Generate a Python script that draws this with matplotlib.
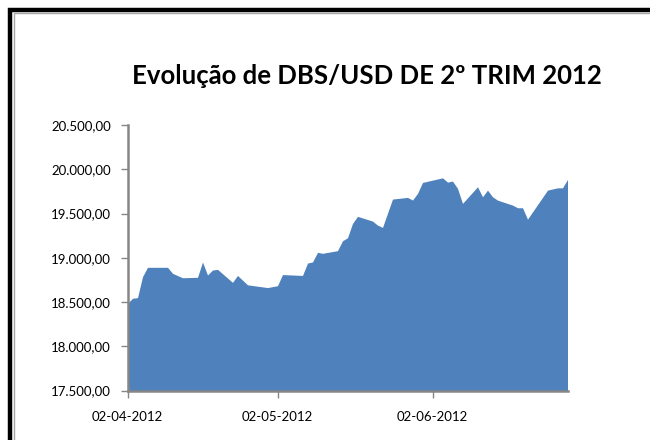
import matplotlib
matplotlib.use("Agg")
import matplotlib.pyplot as plt
import matplotlib.dates as mdates
from matplotlib.lines import Line2D
from matplotlib.ticker import FuncFormatter, FixedLocator
import numpy as np
import pandas as pd

title = "Evolução de DBS/USD DE 2º TRIM 2012"

dates = [
    "2012-04-02", "2012-04-03", "2012-04-04", "2012-04-05", "2012-04-06",
    "2012-04-10", "2012-04-11", "2012-04-13", "2012-04-16", "2012-04-17",
    "2012-04-18", "2012-04-19", "2012-04-20", "2012-04-23", "2012-04-24",
    "2012-04-26", "2012-04-30", "2012-05-02", "2012-05-03", "2012-05-07",
    "2012-05-08", "2012-05-09", "2012-05-10", "2012-05-11", "2012-05-14",
    "2012-05-15", "2012-05-16", "2012-05-17", "2012-05-18", "2012-05-21",
    "2012-05-22", "2012-05-23", "2012-05-25", "2012-05-28", "2012-05-29",
    "2012-05-30", "2012-05-31", "2012-06-04", "2012-06-05", "2012-06-06",
    "2012-06-07", "2012-06-08", "2012-06-11", "2012-06-12", "2012-06-13",
    "2012-06-14", "2012-06-15", "2012-06-18", "2012-06-19", "2012-06-20",
    "2012-06-21", "2012-06-25", "2012-06-27", "2012-06-28", "2012-06-29",
]
values = [
    18485, 18542, 18549, 18786, 18892,
    18892, 18824, 18774, 18779, 18952,
    18805, 18861, 18869, 18722, 18800,
    18694, 18663, 18684, 18810, 18800,
    18940, 18952, 19061, 19050, 19080,
    19192, 19226, 19388, 19468, 19414,
    19369, 19343, 19663, 19682, 19652,
    19727, 19851, 19903, 19855, 19866,
    19784, 19614, 19802, 19689, 19764,
    19689, 19651, 19595, 19565, 19565,
    19436, 19764, 19790, 19790, 19885,
]
y_ticks = [17500, 18000, 18500, 19000, 19500, 20000, 20500]
x_tick_dates = ["2012-04-02", "2012-05-02", "2012-06-02"]

x = pd.to_datetime(dates)
W, H = 650, 440
fig = plt.figure(figsize=(6.5, 4.4), dpi=100)
fig.patch.set_facecolor("white")

def fx(px):
    return px / W

def fy(py):
    return 1 - py / H

# chart border: thick black line on top and left, thin grey inner line
fig.add_artist(Line2D([fx(10), fx(10), fx(700)], [fy(500), fy(10), fy(10)],
                      transform=fig.transFigure, color="black", linewidth=3.2,
                      solid_joinstyle="miter", clip_on=False))
fig.add_artist(Line2D([fx(13.5), fx(13.5), fx(700)], [fy(500), fy(13.5), fy(13.5)],
                      transform=fig.transFigure, color="#a6a6a6", linewidth=1.0,
                      solid_joinstyle="miter", clip_on=False))

ax = fig.add_axes([127.5 / W, (440 - 390.5) / H, 440 / W, 265.5 / H])
ax.fill_between(x, values, 17500, color="#4F81BD", linewidth=0)
ax.set_xlim(x[0], x[-1])
ax.set_ylim(17500, 20500)

ax.yaxis.set_major_locator(FixedLocator(y_ticks))
def fmt(v, pos):
    s = f"{v:,.2f}"
    return s.replace(",", "X").replace(".", ",").replace("X", ".")
ax.yaxis.set_major_formatter(FuncFormatter(fmt))
ax.set_xticks(pd.to_datetime(x_tick_dates))
ax.xaxis.set_major_formatter(mdates.DateFormatter("%d-%m-%Y"))

for s in ["top", "right"]:
    ax.spines[s].set_visible(False)
for s in ["left", "bottom"]:
    ax.spines[s].set_color("#868686")
    ax.spines[s].set_linewidth(1.8)
ax.tick_params(axis="both", colors="#868686", length=5, width=1, labelcolor="black",
               labelsize=9.5)
ax.tick_params(axis="y", pad=7)
ax.tick_params(axis="x", pad=10)
for lab in ax.get_xticklabels() + ax.get_yticklabels():
    lab.set_fontfamily("Lato")

fig.text(367 / W, 1 - 76 / H, title, ha="center", va="center", fontsize=18.5,
         fontweight="bold", fontfamily="Lato")

fig.savefig("out.png", dpi=100)
